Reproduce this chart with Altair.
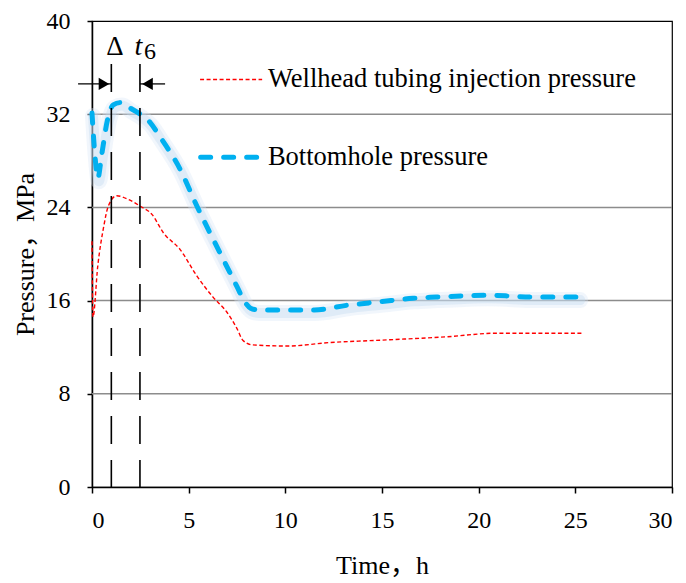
import altair as alt
import pandas as pd

# ---- data ----
bh_time = [0, 0.15, 0.3, 0.5, 0.8, 1.1, 1.5, 2.0, 2.5, 3.0, 3.5, 4.55, 5.43, 6.62, 7.5,
           7.9, 8.2, 8.6, 10.0, 11.5, 13.2, 14.9, 16.6, 17.8, 19.2, 20.4, 21.5, 22.7, 25.2]
bh_pressure = [32.1, 28.5, 26.5, 28.5, 31.5, 32.8, 33.0, 32.5, 32.0, 31.3, 30.1, 27.3, 24.1, 20.1, 17.2,
               15.9, 15.35, 15.2, 15.2, 15.2, 15.6, 15.9, 16.2, 16.3, 16.4, 16.45, 16.4, 16.3, 16.3]

wh_time = [0, 0.05, 0.3, 0.6, 0.84, 1.28, 1.86, 2.5, 3.1, 3.7, 4.55, 5.43, 6.26, 6.98, 7.5,
           7.8, 8.3, 10.1, 12.3, 14.9, 18.4, 20.9, 25.4]
wh_pressure = [21.1, 14.6, 19.0, 22.3, 24.1, 25.0, 24.7, 24.1, 23.4, 21.8, 20.4, 18.1, 16.3, 15.0, 13.6,
               12.6, 12.2, 12.1, 12.4, 12.6, 12.9, 13.2, 13.2]

series_names = ["Wellhead tubing injection pressure", "Bottomhole pressure"]
marker_times = [1.0, 2.48]          # dashed verticals bounding Δt6
x_ticks = [0, 5, 10, 15, 20, 25, 30]
y_ticks = [0, 8, 16, 24, 32, 40]
grid_values = [8, 16, 24, 32]

FONT = "Liberation Serif"
TITLE_FONT = "'Liberation Serif', 'Noto Sans CJK SC'"
RED = "#FF0000"
BLUE = "#00B0F0"

bh = pd.DataFrame({"t": bh_time, "p": bh_pressure})
wh = pd.DataFrame({"t": wh_time, "p": wh_pressure})

xs = alt.Scale(domain=[0, 30], nice=False, zero=False)
ys = alt.Scale(domain=[0, 40], nice=False, zero=False)

X = alt.X("t:Q", scale=xs, axis=alt.Axis(
    title="Time，h", values=x_ticks, grid=False, tickSize=6, labelPadding=15,
    titlePadding=20, domainColor="black", tickColor="black"))
Y = alt.Y("p:Q", scale=ys, axis=alt.Axis(
    title="Pressure，MPa", values=y_ticks, grid=False, tickSize=5, labelPadding=17,
    titlePadding=8, domainColor="black", tickColor="black"))

base = alt.Chart(bh).encode(x=X, y=Y)
axes_layer = base.mark_line(opacity=0)

grid = alt.Chart(pd.DataFrame({"p": grid_values})).mark_rule(
    color="#8C8C8C", strokeWidth=1.5).encode(y=alt.Y("p:Q", scale=ys))

glow_wide = alt.Chart(bh).mark_line(color="#D6E6F5", strokeWidth=16, opacity=0.35,
                                     interpolate="monotone", strokeCap="round",
                                     strokeJoin="round", yOffset=3, xOffset=1).encode(
    x=alt.X("t:Q", scale=xs), y=alt.Y("p:Q", scale=ys))
glow = alt.Chart(bh).mark_line(color="#BDD7EE", strokeWidth=10, opacity=0.35,
                                interpolate="monotone", strokeCap="round",
                                strokeJoin="round", yOffset=3, xOffset=1).encode(
    x=alt.X("t:Q", scale=xs), y=alt.Y("p:Q", scale=ys))

bh_line = alt.Chart(bh).mark_line(color=BLUE, strokeWidth=5, strokeDash=[10, 13],
                                  strokeCap="round", interpolate="monotone").encode(
    x=alt.X("t:Q", scale=xs), y=alt.Y("p:Q", scale=ys))

wh_line = alt.Chart(wh).mark_line(color=RED, strokeWidth=1.4, strokeDash=[4, 2.5],
                                  interpolate="monotone").encode(
    x=alt.X("t:Q", scale=xs), y=alt.Y("p:Q", scale=ys))

vlines = alt.Chart(pd.DataFrame({"t": marker_times})).mark_rule(
    color="black", strokeWidth=1.6, strokeDash=[28, 16]).encode(
    x=alt.X("t:Q", scale=xs), y=alt.datum(36.3, scale=ys), y2=alt.datum(0))

# arrows for Δt6
arrows = pd.DataFrame({"x1": [-0.72, marker_times[1]], "x2": [marker_times[0], 3.78]})
arrow_lines = alt.Chart(arrows).mark_rule(color="black", strokeWidth=1.3).encode(
    x=alt.X("x1:Q", scale=xs), x2="x2:Q", y=alt.datum(34.6, scale=ys))
heads = pd.DataFrame({"x": [0.62, 2.87], "shape": ["triangle-right", "triangle-left"]})
arrow_heads = alt.Chart(heads).mark_point(filled=True, color="black", opacity=1, size=150).encode(
    x=alt.X("x:Q", scale=xs), y=alt.datum(34.6, scale=ys),
    shape=alt.Shape("shape:N", scale=None))

delta = alt.Chart(pd.DataFrame({"x": [1.19]})).mark_text(
    text="Δ", font=FONT, fontSize=27, align="center", baseline="middle").encode(
    x=alt.X("x:Q", scale=xs), y=alt.datum(37.8, scale=ys))
t_lbl = alt.Chart(pd.DataFrame({"x": [2.4]})).mark_text(
    text="t", font=FONT, fontSize=28, fontStyle="italic", align="center", baseline="middle").encode(
    x=alt.X("x:Q", scale=xs), y=alt.datum(37.8, scale=ys))
sub_lbl = alt.Chart(pd.DataFrame({"x": [3.0]})).mark_text(
    text="6", font=FONT, fontSize=24, align="center", baseline="middle").encode(
    x=alt.X("x:Q", scale=xs), y=alt.datum(37.3, scale=ys))

# manual legend
leg_red = alt.Chart(pd.DataFrame({"a": [5.59], "b": [8.8]})).mark_rule(
    color=RED, strokeWidth=1.4, strokeDash=[4, 2.5]).encode(
    x=alt.X("a:Q", scale=xs), x2="b:Q", y=alt.datum(34.98, scale=ys))
leg_blue = alt.Chart(pd.DataFrame({"a": [5.62], "b": [8.75]})).mark_rule(
    color=BLUE, strokeWidth=5, strokeDash=[10, 13], strokeCap="round").encode(
    x=alt.X("a:Q", scale=xs), x2="b:Q", y=alt.datum(28.3, scale=ys))
leg_text = alt.Chart(pd.DataFrame({"label": series_names, "y": [35.0, 28.3]})).mark_text(
    font=FONT, fontSize=26.5, align="left", baseline="middle").encode(
    x=alt.datum(9.1, scale=xs), y=alt.Y("y:Q", scale=ys), text="label:N")

chart = alt.layer(
    axes_layer, grid, glow_wide, glow, wh_line, bh_line, vlines, arrow_lines, arrow_heads,
    delta, t_lbl, sub_lbl, leg_red, leg_blue, leg_text
).properties(
    width=580, height=466,
    autosize=alt.AutoSizeParams(type="none"),
    padding={"left": 84, "top": 13, "right": 6, "bottom": 94},
    background="white",
).configure_view(stroke="black", strokeWidth=1.2).configure_axis(
    labelFont=FONT, labelFontSize=24, labelColor="black",
    titleFont=TITLE_FONT, titleFontSize=26, titleFontWeight="normal", titleColor="black",
    domainWidth=1.5, tickWidth=1.5,
)

chart.save("out.html", embed_options={"renderer": "svg", "actions": False})
